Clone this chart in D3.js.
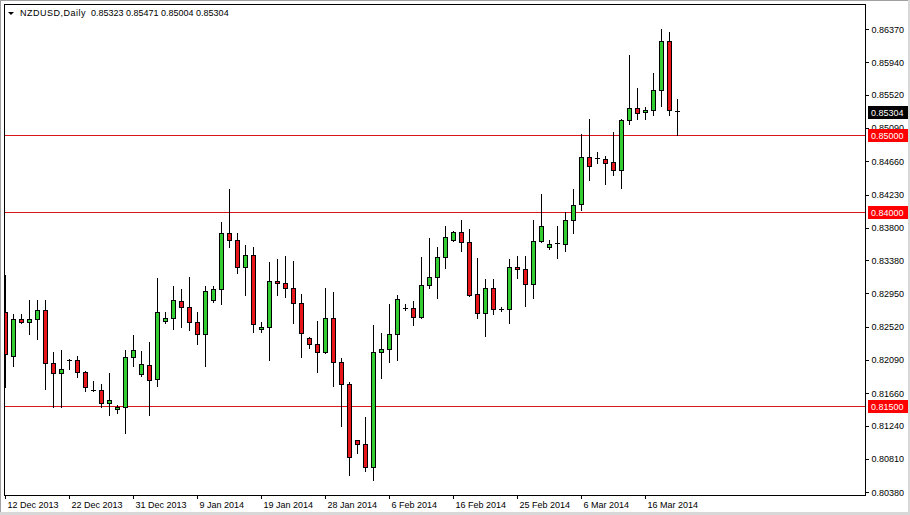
<!DOCTYPE html>
<html>
<head>
<meta charset="utf-8">
<script src="https://cdn.jsdelivr.net/npm/d3@7/dist/d3.min.js"></script>
<style>
html,body{margin:0;padding:0;background:#fff;}
svg{display:block;}
text{font-family:"Liberation Sans",Arial,sans-serif;}
</style>
</head>
<body>
<svg id="chart" width="910" height="515"></svg>
<script>
// ---------- DATA ----------
const symbolTitle = "NZDUSD,Daily";
const lastOHLC = ["0.85323", "0.85471", "0.85004", "0.85304"];

const dates = [
 "2013-12-12","2013-12-13","2013-12-15","2013-12-16","2013-12-17","2013-12-18","2013-12-19","2013-12-20",
 "2013-12-22","2013-12-23","2013-12-24","2013-12-25","2013-12-26","2013-12-27","2013-12-29","2013-12-30",
 "2013-12-31","2014-01-01","2014-01-02","2014-01-03","2014-01-05","2014-01-06","2014-01-07","2014-01-08",
 "2014-01-09","2014-01-10","2014-01-12","2014-01-13","2014-01-14","2014-01-15","2014-01-16","2014-01-17",
 "2014-01-19","2014-01-20","2014-01-21","2014-01-22","2014-01-23","2014-01-24","2014-01-26","2014-01-27",
 "2014-01-28","2014-01-29","2014-01-30","2014-01-31","2014-02-02","2014-02-03","2014-02-04","2014-02-05",
 "2014-02-06","2014-02-07","2014-02-09","2014-02-10","2014-02-11","2014-02-12","2014-02-13","2014-02-14",
 "2014-02-16","2014-02-17","2014-02-18","2014-02-19","2014-02-20","2014-02-21","2014-02-23","2014-02-24",
 "2014-02-25","2014-02-26","2014-02-27","2014-02-28","2014-03-02","2014-03-03","2014-03-04","2014-03-05",
 "2014-03-06","2014-03-07","2014-03-09","2014-03-10","2014-03-11","2014-03-12","2014-03-13","2014-03-14",
 "2014-03-16","2014-03-17","2014-03-18","2014-03-19","2014-03-20"
];

const open = [
 0.82710,0.82141,0.82620,0.82581,0.82620,0.82736,0.82050,0.81921,
 0.82089,0.82089,0.81934,0.81701,0.81701,0.81533,0.81455,0.81481,
 0.82128,0.81908,0.82025,0.81843,0.82594,0.82633,0.82853,0.82775,
 0.82581,0.82426,0.82865,0.83008,0.83732,0.83642,0.83292,0.83448,
 0.82490,0.82516,0.83111,0.83085,0.83021,0.82827,0.82374,0.82296,
 0.82193,0.82633,0.82063,0.81779,0.81054,0.81003,0.80705,0.82193,
 0.82232,0.82426,0.82762,0.82762,0.82646,0.83060,0.83163,0.83422,
 0.83642,0.83745,0.83616,0.82943,0.82697,0.83021,0.82749,0.82749,
 0.83292,0.83266,0.83072,0.83629,0.83551,0.83603,0.83590,0.83900,
 0.84107,0.84715,0.84702,0.84690,0.84651,0.84547,0.85194,0.85349,
 0.85298,0.85323,0.85582,0.86216,0.85323
];
const high = [
 0.83189,0.82684,0.82684,0.82865,0.82865,0.82865,0.82193,0.82219,
 0.82102,0.82141,0.81947,0.81818,0.81779,0.81921,0.81507,0.82219,
 0.82413,0.82206,0.82322,0.83150,0.82710,0.83047,0.83008,0.83163,
 0.82710,0.83047,0.83047,0.83875,0.84301,0.83732,0.83577,0.83551,
 0.82581,0.83357,0.83396,0.83435,0.83370,0.82943,0.82387,0.82594,
 0.83021,0.82969,0.82115,0.81805,0.81060,0.81352,0.82542,0.82439,
 0.82814,0.82930,0.82814,0.82853,0.83422,0.83668,0.83551,0.83823,
 0.83758,0.83900,0.83784,0.83409,0.83137,0.83137,0.82775,0.83396,
 0.83435,0.83435,0.83900,0.84237,0.83642,0.83823,0.84009,0.84301,
 0.85013,0.85207,0.84780,0.84728,0.85039,0.85207,0.86035,0.85608,
 0.85362,0.85802,0.86371,0.86333,0.85471
];
const low = [
 0.81740,0.82012,0.82568,0.82426,0.82361,0.81714,0.81481,0.81481,
 0.81973,0.81869,0.81688,0.81688,0.81481,0.81378,0.81404,0.81145,
 0.82012,0.81882,0.81378,0.81753,0.82568,0.82490,0.82516,0.82477,
 0.82296,0.82012,0.82840,0.82814,0.83551,0.83215,0.82930,0.82452,
 0.82452,0.82089,0.82930,0.82904,0.82568,0.82128,0.82245,0.81934,
 0.82180,0.81753,0.81235,0.80602,0.80886,0.80653,0.80537,0.81856,
 0.82063,0.82089,0.82736,0.82542,0.82633,0.83021,0.82891,0.83279,
 0.83629,0.83499,0.82917,0.82633,0.82400,0.82684,0.82723,0.82568,
 0.83150,0.82788,0.82891,0.83616,0.83525,0.83409,0.83499,0.83732,
 0.84030,0.84418,0.84638,0.84366,0.84483,0.84314,0.85142,0.85207,
 0.85207,0.85259,0.85375,0.85259,0.85004
];
const close = [
 0.82167,0.82620,0.82581,0.82620,0.82736,0.82050,0.81921,0.81973,
 0.82085,0.81934,0.81740,0.81696,0.81533,0.81572,0.81481,0.82128,
 0.82219,0.82038,0.81831,0.82710,0.82633,0.82865,0.82775,0.82581,
 0.82426,0.82982,0.83008,0.83732,0.83642,0.83292,0.83448,0.82555,
 0.82516,0.83111,0.83085,0.83021,0.82827,0.82439,0.82296,0.82193,
 0.82633,0.82063,0.81779,0.80834,0.81003,0.80705,0.82193,0.82232,
 0.82426,0.82878,0.82758,0.82646,0.83060,0.83163,0.83422,0.83681,
 0.83745,0.83616,0.82930,0.82697,0.83021,0.82749,0.82745,0.83292,
 0.83266,0.83072,0.83629,0.83823,0.83590,0.83600,0.83900,0.84094,
 0.84715,0.84599,0.84698,0.84638,0.84547,0.85194,0.85349,0.85285,
 0.85323,0.85582,0.86216,0.85323,0.85304
];

const priceTicks = ["0.86370","0.85940","0.85520","0.85090","0.84660","0.84230","0.83800",
  "0.83380","0.82950","0.82520","0.82090","0.81660","0.81240","0.80810","0.80380"];
const dateTickDates = ["2013-12-12","2013-12-22","2013-12-31","2014-01-09","2014-01-19","2014-01-28",
  "2014-02-06","2014-02-16","2014-02-25","2014-03-06","2014-03-16"];
const dateTickLabels = ["12 Dec 2013","22 Dec 2013","31 Dec 2013","9 Jan 2014","19 Jan 2014","28 Jan 2014",
  "6 Feb 2014","16 Feb 2014","25 Feb 2014","6 Mar 2014","16 Mar 2014"];
const levels = [0.85000, 0.84000, 0.81500];
const levelLabels = ["0.85000","0.84000","0.81500"];
const currentPrice = 0.85304;
const currentLabel = "0.85304";

// ---------- LAYOUT ----------
const W = 910, H = 515;
const plot = {left: 4, top: 4, right: 865, bottom: 495};
const bull = "#32cd32", bear = "#e8161b", lineRed = "#d81818", boxRed = "#ff0000";

const svg = d3.select("#chart");
const bars = dates.map((d,i)=>({date:d,o:open[i],h:high[i],l:low[i],c:close[i]}));

const x = d3.scaleBand().domain(dates).range([1.5, 1.5 + dates.length*8]).paddingInner(0).paddingOuter(0);
const y = d3.scaleLinear().domain([0.80343, 0.86695]).range([plot.bottom, plot.top]);
const cx = d => x(d) + x.bandwidth()/2;

// background & frame
svg.append("rect").attr("x",0).attr("y",0).attr("width",W).attr("height",H).attr("fill","#fff");
svg.append("rect").attr("x",0.5).attr("y",0.5).attr("width",W-1).attr("height",H-1)
  .attr("fill","none").attr("stroke","#a0a0a0");
svg.append("rect").attr("x",0).attr("y",H-3).attr("width",W).attr("height",3).attr("fill","#d8d8d8");
svg.append("rect").attr("x",W-2).attr("y",0).attr("width",2).attr("height",H).attr("fill","#d8d8d8");

svg.append("clipPath").attr("id","clip").append("rect")
  .attr("x",plot.left+1).attr("y",plot.top+1)
  .attr("width",plot.right-plot.left-1).attr("height",plot.bottom-plot.top-1);

const g = svg.append("g").attr("clip-path","url(#clip)").attr("shape-rendering","crispEdges");

// horizontal levels
g.selectAll("line.level").data(levels).join("line")
  .attr("x1",plot.left).attr("x2",plot.right)
  .attr("y1",d=>Math.round(y(d))+0.5).attr("y2",d=>Math.round(y(d))+0.5)
  .attr("stroke",lineRed).attr("stroke-width",1);

// wicks
g.selectAll("line.wick").data(bars).join("line")
  .attr("x1",d=>Math.floor(cx(d.date))+0.5).attr("x2",d=>Math.floor(cx(d.date))+0.5)
  .attr("y1",d=>Math.round(y(d.h))).attr("y2",d=>Math.round(y(d.l))+1)
  .attr("stroke","#000").attr("stroke-width",1);

// bodies
bars.forEach(d=>{
  const xc = Math.floor(cx(d.date));
  const yo = y(d.o), yc = y(d.c);
  if (Math.abs(yo-yc) < 1.7) {
    g.append("rect").attr("x",xc-2).attr("y",Math.round((yo+yc)/2)).attr("width",5).attr("height",1).attr("fill","#000");
  } else {
    const top = Math.round(Math.min(yo,yc)), bot = Math.round(Math.max(yo,yc));
    g.append("rect").attr("x",xc-2).attr("y",top).attr("width",5).attr("height",bot-top+1).attr("fill","#000");
    if (bot-top-1 > 0)
      g.append("rect").attr("x",xc-1).attr("y",top+1).attr("width",3).attr("height",bot-top-1)
        .attr("fill", d.c >= d.o ? bull : bear);
  }
});

// plot border
svg.append("rect").attr("x",plot.left+0.5).attr("y",plot.top+0.5)
  .attr("width",plot.right-plot.left).attr("height",plot.bottom-plot.top)
  .attr("fill","none").attr("stroke","#000").attr("shape-rendering","crispEdges");

// right price axis
const yAxis = d3.axisRight(y).tickValues(priceTicks.map(Number)).tickFormat((d,i)=>priceTicks[i]).tickSize(3).tickPadding(3);
const ya = svg.append("g").attr("transform",`translate(${plot.right+0.5},0)`).call(yAxis);
ya.select(".domain").remove();
ya.selectAll(".tick line").attr("stroke","#000").attr("shape-rendering","crispEdges");
ya.selectAll(".tick text").attr("fill","#000").style("font-size","9px").style("font-family","'Liberation Sans',Arial,sans-serif");

// bottom date axis
const xa = svg.append("g");
dateTickDates.forEach((d,i)=>{
  const tx = Math.floor(cx(d))+0.5;
  xa.append("line").attr("x1",tx).attr("x2",tx).attr("y1",plot.bottom).attr("y2",plot.bottom+4)
    .attr("stroke","#000").attr("shape-rendering","crispEdges");
  xa.append("text").attr("x",tx+2).attr("y",508).attr("font-size","9px").attr("fill","#000").text(dateTickLabels[i]);
});

// level labels on axis
levels.forEach((lv,i)=>{
  const yy = Math.round(y(lv));
  svg.append("rect").attr("x",868).attr("y",yy-6).attr("width",40).attr("height",13).attr("fill",boxRed);
  svg.append("text").attr("x",871).attr("y",yy+4).attr("font-size","9px").attr("fill","#fff").text(levelLabels[i]);
});
// current price label
{
  const yy = Math.round(y(currentPrice));
  svg.append("rect").attr("x",868).attr("y",yy-6).attr("width",40).attr("height",13).attr("fill","#000");
  svg.append("text").attr("x",871).attr("y",yy+4).attr("font-size","9px").attr("fill","#fff").text(currentLabel);
}

// header
svg.append("path").attr("d","M8,12 L14,12 L11,15 Z").attr("fill","#000");
svg.append("text").attr("x",20).attr("y",16).attr("font-size","9px").attr("letter-spacing","0.5px").attr("fill","#000").text(symbolTitle);
svg.append("text").attr("x",91).attr("y",16).attr("font-size","9px").attr("fill","#000").text(lastOHLC.join(" "));
</script>
</body>
</html>
